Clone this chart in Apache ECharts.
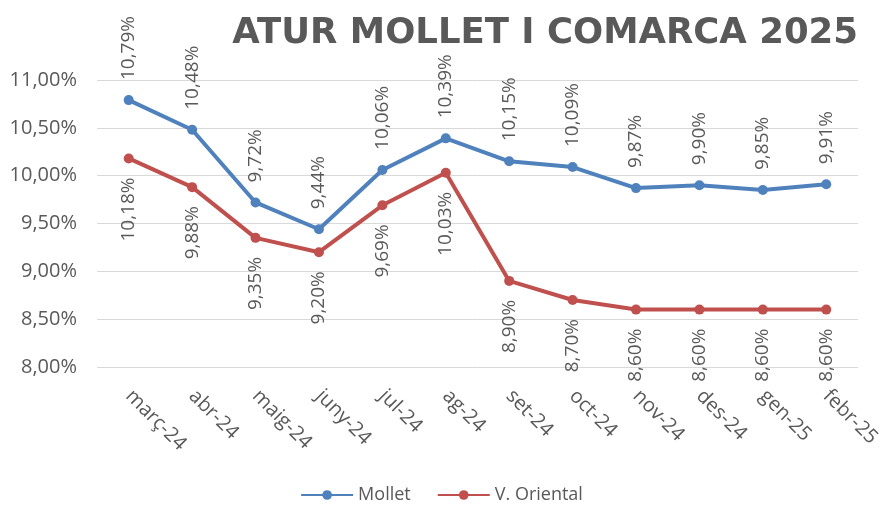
<!DOCTYPE html>
<html>
<head>
<meta charset="utf-8">
<script src="https://cdn.jsdelivr.net/npm/echarts@6/dist/echarts.min.js"></script>
<style>
  html, body { margin: 0; padding: 0; background: #fff; }
  #chart { width: 883px; height: 505px; }
</style>
</head>
<body>
<div id="chart"></div>
<script>
// dades
const months = ['març-24', 'abr-24', 'maig-24', 'juny-24', 'jul-24', 'ag-24',
  'set-24', 'oct-24', 'nov-24', 'des-24', 'gen-25', 'febr-25'];
const mollet = [10.79, 10.48, 9.72, 9.44, 10.06, 10.39, 10.15, 10.09, 9.87, 9.90, 9.85, 9.91];
const vOriental = [10.18, 9.88, 9.35, 9.20, 9.69, 10.03, 8.90, 8.70, 8.60, 8.60, 8.60, 8.60];

const pct = v => v.toFixed(2).replace('.', ',') + '%';
const font = 'Open Sans';
const grey = '#595959';

const chart = echarts.init(document.getElementById('chart'));
chart.setOption({
  animation: false,
  title: {
    text: 'ATUR MOLLET I COMARCA 2025',
    right: 20,
    top: 11,
    textStyle: { fontFamily: 'DejaVu Sans', fontWeight: 'bold', fontSize: 35.5, color: grey }
  },
  legend: {
    bottom: -4,
    left: 'center',
    itemWidth: 52,
    itemHeight: 12,
    itemGap: 26,
    textStyle: { fontFamily: font, fontSize: 18, color: grey },
    data: ['Mollet', 'V. Oriental']
  },
  grid: { left: 97, right: 18, top: 80, bottom: 138 },
  xAxis: {
    type: 'category',
    data: months,
    axisLine: { show: false },
    axisTick: { show: false },
    axisLabel: {
      rotate: -45,
      margin: 26,
      fontFamily: font,
      fontSize: 20,
      color: grey
    }
  },
  yAxis: {
    type: 'value',
    min: 8,
    max: 11,
    interval: 0.5,
    axisLabel: {
      formatter: pct,
      fontFamily: font,
      fontSize: 20,
      color: grey,
      margin: 20
    },
    splitLine: { lineStyle: { color: '#d9d9d9', width: 1 } }
  },
  series: [
    {
      name: 'Mollet',
      type: 'line',
      data: mollet,
      color: '#4F81BD',
      symbol: 'circle',
      symbolSize: 10,
      lineStyle: { width: 4 },
      label: {
        show: true,
        position: 'top',
        rotate: 90,
        align: 'left',
        verticalAlign: 'middle',
        distance: 15,
        formatter: p => pct(p.value),
        fontFamily: font,
        fontSize: 19,
        color: grey
      }
    },
    {
      name: 'V. Oriental',
      type: 'line',
      data: vOriental,
      color: '#C0504D',
      symbol: 'circle',
      symbolSize: 10,
      lineStyle: { width: 4 },
      label: {
        show: true,
        position: 'bottom',
        rotate: 90,
        align: 'right',
        verticalAlign: 'middle',
        distance: 14,
        formatter: p => pct(p.value),
        fontFamily: font,
        fontSize: 19,
        color: grey
      }
    }
  ]
});
</script>
</body>
</html>
